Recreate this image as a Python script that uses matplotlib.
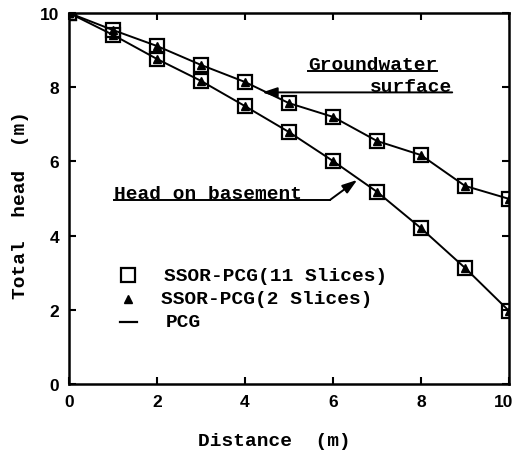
import numpy as np
import matplotlib
matplotlib.use("Agg")
import matplotlib.pyplot as plt
from matplotlib.transforms import ScaledTranslation

# distance along the section (m)
distance = [0, 1, 2, 3, 4, 5, 6, 7, 8, 9, 10]
# total head (m)
head_surface = [10.0, 9.54, 9.11, 8.6, 8.14, 7.57, 7.2, 6.55, 6.17, 5.34, 4.99]
head_basement = [10.0, 9.41, 8.76, 8.17, 7.49, 6.79, 6.01, 5.18, 4.2, 3.13, 1.97]

legend_labels = ["SSOR-PCG(11 Slices)", "SSOR-PCG(2 Slices)", "PCG"]
ticks = [0, 2, 4, 6, 8, 10]

mono = "Liberation Mono"
sans = "Liberation Sans"
fs = 14

fig = plt.figure(figsize=(5.17, 4.56), dpi=100)
ax = fig.add_axes([0.1335, 0.1557, 0.851, 0.8136])

for h in (head_surface, head_basement):
    ax.plot(distance, h, color="black", lw=1.4, zorder=2)
    ax.plot(distance, h, ls="none", marker="s", ms=10, mfc="none",
            mec="black", mew=1.6, zorder=3)
    ax.plot(distance, h, ls="none", marker="^", ms=5.5, color="black", zorder=4)

ax.set_xlim(0, 10)
ax.set_ylim(0, 10)
ax.set_xticks(ticks)
ax.set_yticks(ticks)
ax.tick_params(direction="in", top=True, right=True, length=5, width=1.5,
               pad=7)
for lab in ax.get_xticklabels() + ax.get_yticklabels():
    lab.set_fontfamily(sans)
    lab.set_fontweight("bold")
    lab.set_fontsize(12.5)
# the last x label sits against the right edge of the figure
last = ax.get_xticklabels()[-1]
last.set_transform(last.get_transform()
                   + ScaledTranslation(-5 / 100, 0, fig.dpi_scale_trans))
for sp in ax.spines.values():
    sp.set_linewidth(1.8)

ax.set_xlabel("Distance  (m)", fontfamily=mono, fontweight="bold",
              fontsize=fs)
ax.xaxis.set_label_coords(0.466, -0.13)
ax.set_ylabel("Total  head  (m)", fontfamily=mono, fontweight="bold",
              fontsize=fs)
ax.yaxis.set_label_coords(-0.09, 0.485)

# legend drawn by hand in axes coordinates
lx, tx = 0.135, 0.215
ax.plot([lx], [0.293], transform=ax.transAxes, marker="s", ms=10,
        mfc="none", mec="black", mew=1.6, clip_on=False)
ax.plot([lx], [0.23], transform=ax.transAxes, marker="^", ms=5.5,
        color="black", clip_on=False)
ax.plot([lx - 0.02, lx + 0.02], [0.168, 0.168], transform=ax.transAxes,
        color="black", lw=1.6)
for y, t, dx in zip([0.293, 0.23, 0.168], legend_labels, [0, -0.005, 0.005]):
    ax.text(tx + dx, y, t, transform=ax.transAxes, fontfamily=mono,
            fontweight="bold", fontsize=fs, va="center")

# annotations
fig.canvas.draw()
inv = ax.transData.inverted()


def underline(txt, y_off=0.0):
    bb = txt.get_window_extent(fig.canvas.get_renderer())
    x0, y0 = inv.transform((bb.x0, bb.y0))
    x1, _ = inv.transform((bb.x1, bb.y0))
    return x0, x1, y0 + y_off


t_base = ax.text(1.02, 4.9, "Head on basement", fontfamily=mono,
                 fontweight="bold", fontsize=fs, va="bottom")
t_gw = ax.text(5.43, 8.38, "Groundwater", fontfamily=mono,
               fontweight="bold", fontsize=fs, va="bottom")
t_sf = ax.text(6.84, 7.8, "surface", fontfamily=mono,
               fontweight="bold", fontsize=fs, va="bottom")

x0, x1, yu = underline(t_base, 0.06)
ax.plot([x0, 5.93], [yu, yu], color="black", lw=1.4)
ax.annotate("", xy=(6.55, 5.5), xytext=(5.93, yu),
            arrowprops=dict(arrowstyle="-|>,head_length=0.9,head_width=0.3",
                            color="black", lw=1.4, shrinkA=0, shrinkB=0))

x0, x1, yu = underline(t_gw, 0.06)
ax.plot([x0, x1], [yu, yu], color="black", lw=1.4)

x0, x1, yu = underline(t_sf, 0.06)
ax.annotate("", xy=(4.39, yu), xytext=(x1, yu),
            arrowprops=dict(arrowstyle="-|>,head_length=0.9,head_width=0.3",
                            color="black", lw=1.4, shrinkA=0, shrinkB=0))

fig.savefig("out.png", dpi=100)
